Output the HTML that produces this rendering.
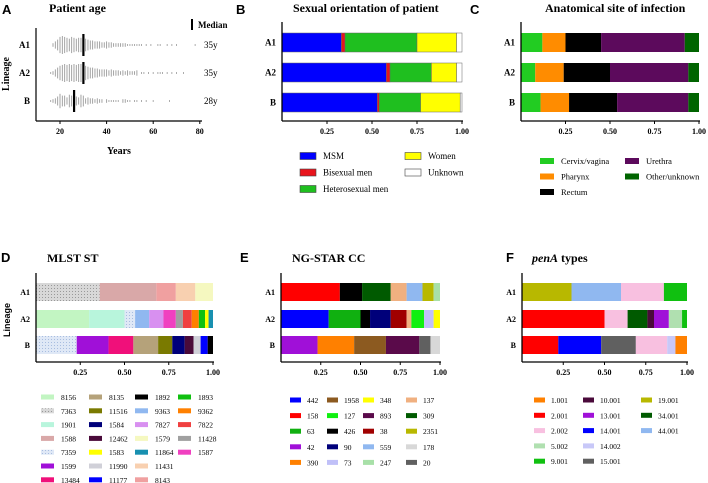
<!DOCTYPE html>
<html><head><meta charset="utf-8"><style>
body{margin:0;background:#fff;}
svg{display:block;font-family:"Liberation Serif",serif;}
.t{font-weight:bold;font-size:12px;}
.lt{font-family:"Liberation Sans",sans-serif;font-weight:bold;font-size:13px;}
.rl{font-weight:bold;font-size:9px;}
.tk{font-weight:bold;font-size:8px;}
.lg{font-size:9px;}
.lgs{font-size:7.5px;}
.lgm{font-size:8.5px;}
</style></head><body>
<svg id="fig" width="708" height="483" viewBox="0 0 708 483">
<defs>
<pattern id="hatchGray" width="3" height="3" patternUnits="userSpaceOnUse"><rect width="3" height="3" fill="#d8d8d8"/><rect width="1" height="1" fill="#999"/></pattern>
<pattern id="hatchBlue" width="3" height="3" patternUnits="userSpaceOnUse"><rect width="3" height="3" fill="#dfe8f6"/><rect width="1" height="1" fill="#a8bde0"/></pattern>
</defs>
<g id="panelA"></g>
<g id="panelB"></g>
<g id="panelC"></g>
<g id="panelD"></g>
<g id="panelE"></g>
<g id="panelF"></g>
</svg>
<script>
const NS="http://www.w3.org/2000/svg";
function mk(p,tag,attrs,txt){const e=document.createElementNS(NS,tag);for(const k in attrs)e.setAttribute(k,attrs[k]);if(txt!==undefined)e.textContent=txt;p.appendChild(e);return e;}

// ---------- Panel A data ----------
const ageLineages=["A1","A2","B"];
const ageMedianLabels=["35y","35y","28y"];
const ageMedians=[30,30,26];
const ageTicks=[20,40,60,80];
const agesA1=[17,18,19,20,21,22,23,24,25,26,27,28,29,30,31,32,33,34,35,36,37,38,39,40,41,42,43,44,45,46,47,48,49,50,51,52,53,54,55,57,59,62,63,66,68,70,78];
const countsA1=[2,4,6,9,10,9,8,7,9,8,7,8,8,10,7,6,5,5,4,4,4,3,3,4,3,3,2,2,2,2,2,2,1,1,1,1,1,1,1,1,1,1,1,1,1,1,1];
const agesA2=[16,17,18,19,20,21,22,23,24,25,26,27,28,29,30,31,32,33,34,35,36,37,38,39,40,41,42,43,44,45,46,47,48,49,50,51,52,53,55,56,58,60,62,63,64,66,68,70,73];
const countsA2=[1,2,4,6,8,9,10,9,10,9,10,9,10,10,10,8,7,6,6,5,5,4,4,4,4,3,4,3,3,3,2,3,2,3,2,2,2,3,1,1,1,1,1,1,1,1,1,1,1];
const agesB=[16,17,18,19,20,21,22,23,24,25,26,27,28,29,30,31,32,33,34,35,36,37,38,40,41,42,43,44,45,47,48,49,50,52,53,55,57,60,67];
const countsB=[1,2,3,5,8,6,6,4,7,6,8,5,4,7,6,3,4,3,3,2,3,2,2,2,1,1,1,1,1,2,2,1,1,1,1,1,1,1,1];
const ageAgesList=[agesA1,agesA2,agesB];
const ageCountsList=[countsA1,countsA2,countsB];

// ---------- Panel B data ----------
const sexCats=["MSM","Bisexual men","Heterosexual men","Women","Unknown"];
const sexColors=["#0000ff","#e8141c","#1fbf1f","#ffff00","#ffffff"];
const sexA1=[0.33,0.02,0.40,0.22,0.03];
const sexA2=[0.58,0.02,0.23,0.14,0.03];
const sexB=[0.53,0.01,0.23,0.22,0.01];

// ---------- Panel C data ----------
const siteCats=["Cervix/vagina","Pharynx","Rectum","Urethra","Other/unknown"];
const siteColors=["#22cc22","#ff8c00","#000000","#5c0a5c","#006400"];
const siteA1=[0.12,0.13,0.20,0.47,0.08];
const siteA2=[0.08,0.16,0.26,0.44,0.06];
const siteB=[0.11,0.16,0.27,0.40,0.06];

// ---------- Panel D data ----------
const mlstCats=["8156","7363","1901","1588","7359","1599","13484","8135","11516","1584","12462","1583","11990","11177","1892","9363","7827","1579","11864","11431","8143","1893","9362","7822","11428","1587"];
const mlstColors=["#c2f5c2","url(#hatchGray)","#b8f5dc","#d9a8a8","url(#hatchBlue)","#a010d8","#f0107a","#b5a27a","#7a7a00","#00007a","#4a0a3a","#ffff00","#d0d0d8","#0000ff","#000000","#90b8f0","#d890f0","#f5f8c0","#1890b0","#f8d0b0","#f0a0a0","#10c010","#ff8000","#f04040","#a0a0a0","#f040c0"];
const mlstA1Ids=["7363","1588","8143","11431","1579"];
const mlstA1Vals=[0.36,0.32,0.11,0.11,0.10];
const mlstA2Ids=["8156","1901","7359","9363","7827","1587","11428","7822","9362","1893","1583","11864"];
const mlstA2Vals=[0.30,0.20,0.06,0.08,0.08,0.07,0.04,0.05,0.04,0.035,0.02,0.025];
const mlstBIds=["7359","1599","13484","8135","11516","1584","12462","11990","11177","1892"];
const mlstBVals=[0.23,0.18,0.14,0.14,0.08,0.07,0.05,0.04,0.04,0.03];

// ---------- Panel E data ----------
const ccCats=["442","158","63","42","390","1958","127","426","90","73","348","893","38","559","247","137","309","2351","178","20"];
const ccColors=["#0000ff","#ff0000","#10b010","#a010d8","#ff8000","#8c5a20","#10f010","#000000","#00007a","#c0c0f8","#ffff00","#5a0a4a","#a00000","#90b8f0","#a8e0a8","#f0b080","#005a00","#b8b800","#d8d8d8","#606060"];
const ccA1Ids=["158","426","309","137","559","2351","247"];
const ccA1Vals=[0.37,0.14,0.18,0.10,0.10,0.07,0.04];
const ccA2Ids=["442","63","426","90","38","137","127","73","348"];
const ccA2Vals=[0.30,0.20,0.06,0.13,0.10,0.03,0.08,0.06,0.04];
const ccBIds=["42","390","1958","893","20","178"];
const ccBVals=[0.23,0.23,0.20,0.21,0.07,0.06];

// ---------- Panel F data ----------
const penCats=["1.001","2.001","2.002","5.002","9.001","10.001","13.001","14.001","14.002","15.001","19.001","34.001","44.001"];
const penColors=["#ff8000","#ff0000","#f8c0e0","#b0e0b0","#10c010","#4a0a3a","#a010d8","#0000ff","#c8c8f8","#606060","#b8b800","#005a00","#90b8f0"];
const penA1Ids=["19.001","44.001","2.002","9.001"];
const penA1Vals=[0.30,0.30,0.26,0.14];
const penA2Ids=["2.001","2.002","34.001","10.001","13.001","5.002","9.001"];
const penA2Vals=[0.50,0.14,0.12,0.04,0.09,0.08,0.03];
const penBIds=["2.001","14.001","15.001","2.002","14.002","1.001"];
const penBVals=[0.22,0.26,0.21,0.19,0.05,0.07];

const rowNames=["A1","A2","B"];
const propTicks=[0.25,0.50,0.75,1.00];

// ---------- Panel A ----------
(function(){
  const g=document.getElementById("panelA");
  const xA=v=>60+(v-20)*2.33;
  const rowY=[45,73,101];
  let e=mk(g,"text",{x:2,y:14,class:"lt"},"A");
  
  
  e=mk(g,"text",{x:49,y:12,class:"t"},"Patient age");
  
  
  e=mk(g,"line",{x1:36,y1:28,x2:36,y2:121,stroke:"#000","stroke-width":1.2});
  
  
  e=mk(g,"line",{x1:36,y1:121,x2:202,y2:121,stroke:"#000","stroke-width":1.2});
  
  
  ageTicks.forEach(t=>{
    const x=xA(t);
    let tk=mk(g,"line",{x1:x,y1:121,x2:x,y2:124,stroke:"#000"});
    
    
    let lb=mk(g,"text",{x:x,y:134,class:"tk","text-anchor":"middle"},String(t));
    
    
  });
  e=mk(g,"text",{x:119,y:154,class:"t","text-anchor":"middle",style:"font-size:10px"},"Years");
  
  
  e=mk(g,"text",{x:0,y:0,class:"t",style:"font-size:10px","text-anchor":"middle",transform:"translate(9,74) rotate(-90)"},"Lineage");
  
  
  e=mk(g,"rect",{x:191,y:19,width:2,height:11,fill:"#000"});
  
  
  e=mk(g,"text",{x:198,y:28,class:"t",style:"font-size:9px"},"Median");
  
  
  rowNames.forEach((r,i)=>{
    const y=rowY[i];
    let lb=mk(g,"text",{x:30,y:y+3,class:"rl","text-anchor":"end"},r);
    
    
    const ages=ageAgesList[i],cnt=ageCountsList[i];
    ages.forEach((a,j)=>{
      const h=Math.max(0.8,cnt[j]*0.9);
      let d=mk(g,"rect",{x:xA(a)-0.45,y:y-h,width:0.9,height:2*h,fill:"#9a9a9a"});
      
      
    });
    let m=mk(g,"rect",{x:xA(ageMedians[i])-1,y:y-11,width:2.2,height:22,fill:"#000"});
    
    
    let ml=mk(g,"text",{x:204,y:y+3,style:"font-size:9px"},ageMedianLabels[i]);
    
    
  });
})();

// ---------- generic stacked bar ----------
function stacked(cfg){
  const g=document.getElementById(cfg.id);
  const x=v=>cfg.x0+v*cfg.w;
  let e=mk(g,"text",{x:cfg.lx,y:cfg.ly,class:"lt"},cfg.letter);
  
  
  e=mk(g,"text",{x:cfg.tx,y:cfg.ty,class:"t"});
  
  
  if(cfg.italic){mk(e,"tspan",{"font-style":"italic"},cfg.italic);mk(e,"tspan",{},cfg.title);}else e.textContent=cfg.title;
  cfg.rows.forEach((r,i)=>{
    const y=cfg.rowY[i];let acc=0;
    let lb=mk(g,"text",{x:cfg.x0-6,y:y+cfg.bh/2+3,class:"rl","text-anchor":"end",style:cfg.rlStyle||""},rowNames[i]);
    
    
    r.ids.forEach((id,j)=>{
      const v=r.vals[j];const ci=cfg.cats.indexOf(id);
      let b=mk(g,"rect",{x:x(acc),y:y,width:v*cfg.w,height:cfg.bh,fill:cfg.colors[ci],stroke:cfg.stroke||"none","stroke-width":0.5});
      
      
      acc+=v;
    });
  });
  e=mk(g,"line",{x1:cfg.x0,y1:cfg.axTop,x2:cfg.x0,y2:cfg.axY,stroke:"#000","stroke-width":1.3});
  
  
  e=mk(g,"line",{x1:cfg.x0,y1:cfg.axY,x2:x(1)+1,y2:cfg.axY,stroke:"#000","stroke-width":1.3});
  
  
  propTicks.forEach(t=>{
    let tk=mk(g,"line",{x1:x(t),y1:cfg.axY,x2:x(t),y2:cfg.axY+3,stroke:"#000"});
    
    
    let tl=mk(g,"text",{x:x(t),y:cfg.axY+13,class:"tk","text-anchor":"middle"},t.toFixed(2));
    
    
  });
  cfg.cats.forEach((c,k)=>{
    const col=Math.floor(k/cfg.perCol),row=k%cfg.perCol;
    const lx=cfg.legX[col],ly=cfg.legY0+row*cfg.legDy;
    let s=mk(g,"rect",{x:lx,y:ly-cfg.sh/2,width:cfg.sw,height:cfg.sh,fill:cfg.colors[k],stroke:cfg.legStroke||"none","stroke-width":0.6});
    
    
    let t=mk(g,"text",{x:lx+cfg.sw+cfg.gap,y:ly+3,class:cfg.legClass},c);
    
    
  });
}
const rowYTop=[33,63,93];
stacked({id:"panelB",letter:"B",lx:236,ly:14,tx:293,ty:12,title:"Sexual orientation of patient",x0:282,w:180,rowY:rowYTop,bh:19,axTop:22,axY:121,
  cats:sexCats,colors:sexColors,stroke:"#666",rows:[{ids:sexCats,vals:sexA1},{ids:sexCats,vals:sexA2},{ids:sexCats,vals:sexB}],
  perCol:3,legX:[300,405],legY0:156,legDy:16.5,sw:16,sh:7,gap:7,legClass:"lg",legStroke:"#444"});
stacked({id:"panelC",letter:"C",lx:470,ly:14,tx:545,ty:12,title:"Anatomical site of infection",x0:521,w:178,rowY:rowYTop,bh:19,axTop:22,axY:121,
  cats:siteCats,colors:siteColors,rows:[{ids:siteCats,vals:siteA1},{ids:siteCats,vals:siteA2},{ids:siteCats,vals:siteB}],
  perCol:3,legX:[540,625],legY0:161,legDy:15.5,sw:14,sh:6,gap:7,legClass:"lgm"});
const rowYBot=[283,310,336];
stacked({id:"panelD",letter:"D",lx:1,ly:262,tx:47,ty:262,title:"MLST ST",x0:36,w:177,rowY:rowYBot,bh:18,axTop:273,axY:362,
  cats:mlstCats,colors:mlstColors,rlStyle:"font-size:8px",rows:[{ids:mlstA1Ids,vals:mlstA1Vals},{ids:mlstA2Ids,vals:mlstA2Vals},{ids:mlstBIds,vals:mlstBVals}],
  perCol:7,legX:[41,89,135,178],legY0:397,legDy:13.8,sw:13,sh:5,gap:7,legClass:"lgs"});
stacked({id:"panelE",letter:"E",lx:240,ly:262,tx:292,ty:262,title:"NG-STAR CC",x0:281,w:159,rowY:rowYBot,bh:18,axTop:273,axY:362,
  cats:ccCats,colors:ccColors,rlStyle:"font-size:8px",rows:[{ids:ccA1Ids,vals:ccA1Vals},{ids:ccA2Ids,vals:ccA2Vals},{ids:ccBIds,vals:ccBVals}],
  perCol:5,legX:[290,327,363,406],legY0:400,legDy:15.6,sw:11,sh:5,gap:6,legClass:"lgs"});
stacked({id:"panelF",letter:"F",lx:506,ly:262,tx:532,ty:262,title:" types",italic:"penA",x0:522,w:165,rowY:rowYBot,bh:18,axTop:273,axY:362,
  cats:penCats,colors:penColors,rlStyle:"font-size:8px",rows:[{ids:penA1Ids,vals:penA1Vals},{ids:penA2Ids,vals:penA2Vals},{ids:penBIds,vals:penBVals}],
  perCol:5,legX:[534,583,641],legY0:400,legDy:15.3,sw:11,sh:5,gap:6,legClass:"lgs"});
(function(){
  const g=document.getElementById("panelD");
  let e=mk(g,"text",{x:0,y:0,style:"font-family:'Liberation Sans',sans-serif;font-weight:bold;font-size:9px","text-anchor":"middle",transform:"translate(10,320) rotate(-90)"},"Lineage");
  
  
})();
</script>
</body></html>
